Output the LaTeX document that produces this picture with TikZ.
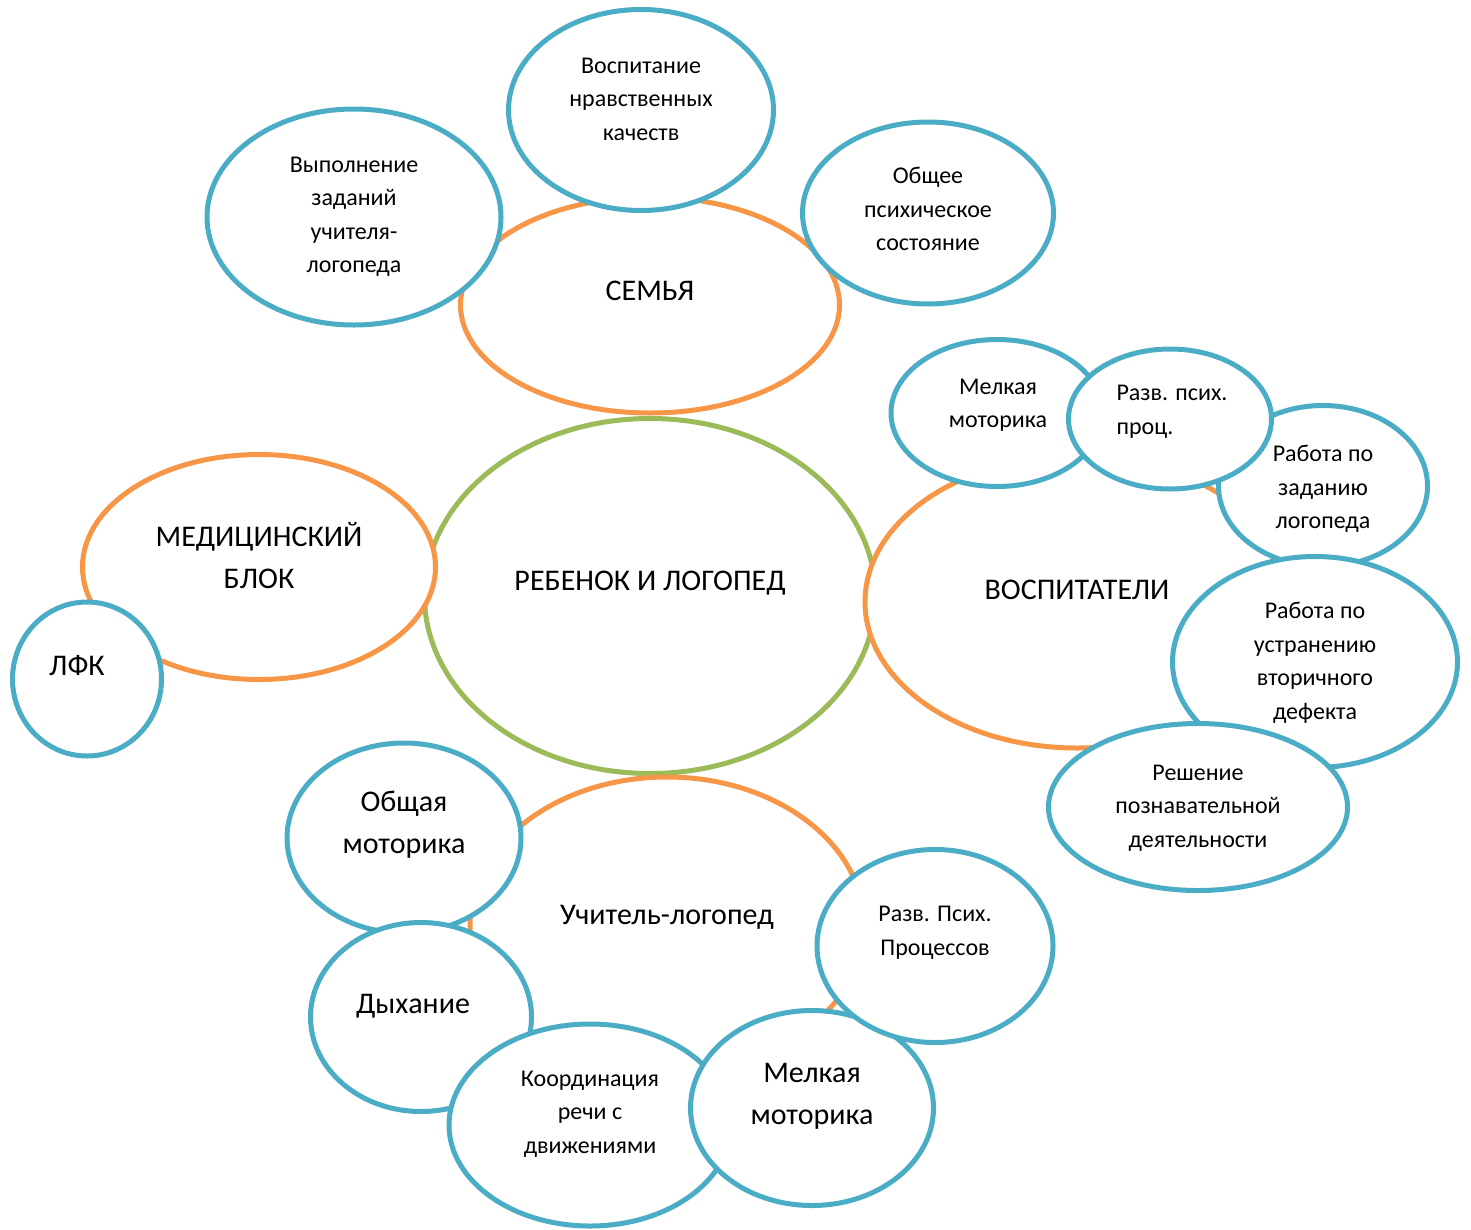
\documentclass[tikz,border=0pt]{standalone}
\usepackage{fontspec}
\setmainfont{Carlito}
\usepackage{xcolor}
\usepackage{tikz}
\usetikzlibrary{shapes.geometric}

\definecolor{ringblue}{RGB}{75,172,198}
\definecolor{ringorange}{RGB}{247,150,70}
\definecolor{ringgreen}{RGB}{155,187,89}

\tikzset{
  ring/.style={ellipse, draw=#1, line width=5pt, fill=white, inner sep=0pt},
  small/.style={align=center, font=\fontsize{24}{33.5}\selectfont, yshift=-2pt},
  big/.style={align=center, font=\fontsize{30}{42}\selectfont, yshift=-2pt},
}

\begin{document}
\begin{tikzpicture}[x=1pt, y=-1pt]
    \useasboundingbox (0,0) rectangle (1471,1229);

    % centre
    \node [ring=ringgreen, minimum width=451, minimum height=355] (reb) at (650,596) {};
    \node [big] (reb-t) at (650,581) {РЕБЕНОК И ЛОГОПЕД};

    % medical block
    \node [ring=ringorange, minimum width=353, minimum height=225] (med) at (259,567) {};
    \node [big] (med-t) at (259,553) {МЕДИЦИНСКИЙ\\БЛОК};
    \node [ring=ringblue, minimum width=149, minimum height=154] (lfk) at (87,679) {};
    \node [big] (lfk-t) at (77,664) {ЛФК};

    % family
    \node [ring=ringorange, minimum width=379, minimum height=216] (semya) at (650,305) {};
    \node [big] (semya-t) at (650,289) {СЕМЬЯ};
    \node [ring=ringblue, minimum width=294, minimum height=216] (vyp) at (354,217) {};
    \node [small] (vyp-t) at (354,215) {Выполнение\\заданий\\учителя-\\логопеда};
    \node [ring=ringblue, minimum width=265, minimum height=201] (vosp) at (641,110) {};
    \node [small] (vosp-t) at (641,97) {Воспитание\\нравственных\\качеств};
    \node [ring=ringblue, minimum width=251, minimum height=182] (obsh) at (928,213) {};
    \node [small] (obsh-t) at (928,207) {Общее\\психическое\\состояние};

    % educators
    \node [ring=ringorange, minimum width=424, minimum height=292] (vospit) at (1077,602) {};
    \node [big] (vospit-t) at (1077,588) {ВОСПИТАТЕЛИ};
    \node [ring=ringblue, minimum width=212, minimum height=147] (melk1) at (997,413) {};
    \node [small] (melk1-t) at (998,403) {Мелкая\\моторика};
    \node [ring=ringblue, minimum width=209, minimum height=161] (rab1) at (1323,486) {};
    \node [small] (rab1-t) at (1323,487) {Работа по\\заданию\\логопеда};
    \node [ring=ringblue, minimum width=203, minimum height=140] (razv1) at (1170,419) {};
    \node [small, align=left, anchor=west] (razv1-t) at (1113,410) {Разв. псих.\\проц.};
    \node [ring=ringblue, minimum width=285, minimum height=211] (rab2) at (1315,662) {};
    \node [small] (rab2-t) at (1315,661) {Работа по\\устранению\\вторичного\\дефекта};
    \node [ring=ringblue, minimum width=299, minimum height=167] (resh) at (1198,807) {};
    \node [small] (resh-t) at (1198,806) {Решение\\познавательной\\деятельности};

    % speech therapist
    \node [ring=ringorange, minimum width=394, minimum height=296] (uchit) at (667,925) {};
    \node [big] (uchit-t) at (667,915) {Учитель-логопед};
    \node [ring=ringblue, minimum width=234, minimum height=190] (obmot) at (404,838) {};
    \node [big] (obmot-t) at (404,823) {Общая\\моторика};
    \node [ring=ringblue, minimum width=221, minimum height=189] (dyh) at (421,1017) {};
    \node [big] (dyh-t) at (413,1004) {Дыхание};
    \node [ring=ringblue, minimum width=282, minimum height=202] (koord) at (590,1125) {};
    \node [small] (koord-t) at (590,1112) {Координация\\речи с\\движениями};
    \node [ring=ringblue, minimum width=243, minimum height=195] (melk2) at (812,1108) {};
    \node [big] (melk2-t) at (812,1094) {Мелкая\\моторика};
    \node [ring=ringblue, minimum width=236, minimum height=193] (razv2) at (935,946) {};
    \node [small] (razv2-t) at (935,931) {Разв. Псих.\\Процессов};
\end{tikzpicture}
\end{document}
